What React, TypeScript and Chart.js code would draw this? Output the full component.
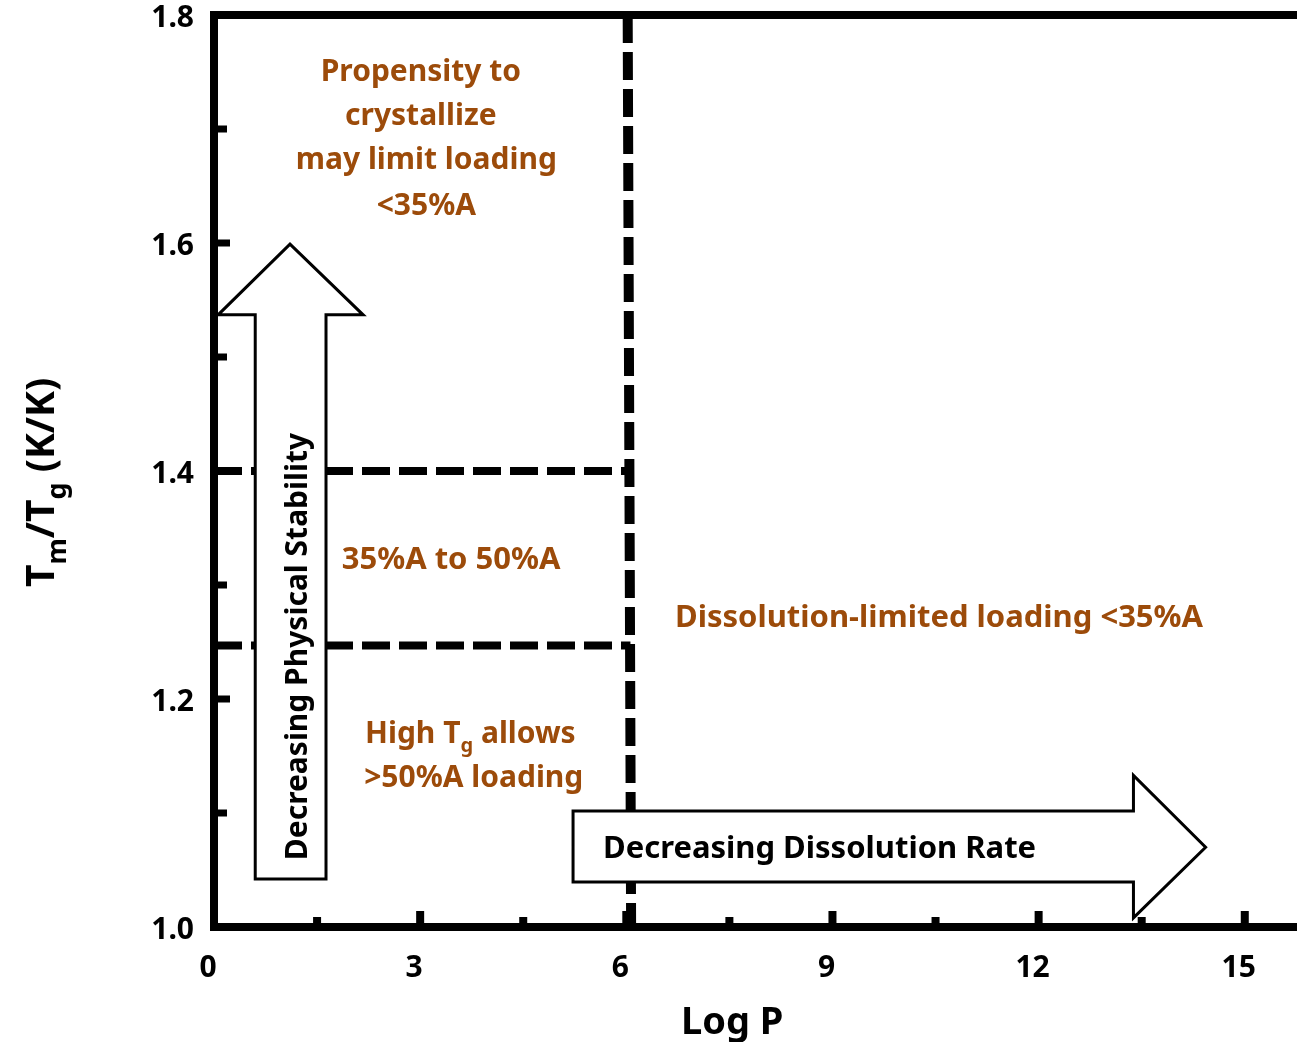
import React, { useEffect, useRef } from 'react';
import { Chart, registerables } from 'chart.js';

Chart.register(...registerables);

// ---- axis ranges & ticks ----
const xRange = [0, 15.76];
const yRange = [1.0, 1.8];
const xTickValues = [0, 1.5, 3, 4.5, 6, 7.5, 9, 10.5, 12, 13.5, 15];
const yTickValues = [1.0, 1.1, 1.2, 1.3, 1.4, 1.5, 1.6, 1.7, 1.8];
const xLabelStep = 3;
const yLabelStep = 0.2;

// ---- boundary lines (data coords) ----
const verticalBoundary = [{ x: 6.02, y: 1.8 }, { x: 6.07, y: 1.0 }];
const upperBoundary = [{ x: 0, y: 1.4 }, { x: 6.03, y: 1.4 }];
const lowerBoundary = [{ x: 0, y: 1.247 }, { x: 6.06, y: 1.247 }];

// ---- block arrows (data coords) ----
const stabilityArrow = [
  [0.6, 1.042], [1.63, 1.042], [1.63, 1.537], [2.17, 1.537],
  [1.106, 1.599], [0.06, 1.537], [0.6, 1.537],
];
const dissolutionArrow = [
  [5.225, 1.1018], [13.38, 1.1018], [13.38, 1.133], [14.43, 1.07],
  [13.38, 1.008], [13.38, 1.0395], [5.225, 1.0395],
];
const stabilityLabel = { text: 'Decreasing Physical Stability', x: 1.19, y: 1.246 };
const dissolutionLabel = { text: 'Decreasing Dissolution Rate', x: 5.66, y: 1.07 };

// ---- region annotations ----
type Part = { t: string; sub?: boolean };
const regionNotes: { parts: Part[]; x: number; y: number; size: number }[] = [
  { parts: [{ t: 'Propensity to' }], x: 3.01, y: 1.752, size: 30 },
  { parts: [{ t: 'crystallize' }], x: 3.01, y: 1.713, size: 30 },
  { parts: [{ t: 'may limit loading' }], x: 3.09, y: 1.674, size: 30 },
  { parts: [{ t: '<35%A' }], x: 3.09, y: 1.634, size: 30 },
  { parts: [{ t: '35%A to 50%A' }], x: 3.45, y: 1.324, size: 31 },
  { parts: [{ t: 'Dissolution-limited loading <35%A' }], x: 10.55, y: 1.273, size: 31 },
  { parts: [{ t: 'High T' }, { t: 'g', sub: true }, { t: ' allows' }], x: 3.73, y: 1.171, size: 30 },
  { parts: [{ t: '>50%A loading' }], x: 3.78, y: 1.132, size: 30 },
];

const xTitle: Part[] = [{ t: 'Log P' }];
const yTitle: Part[] = [{ t: 'T' }, { t: 'm', sub: true }, { t: '/T' }, { t: 'g', sub: true }, { t: ' (K/K)' }];

const FONT = '"Noto Sans"';
const NOTE_COLOR = '#9C4B0A';

function drawRich(ctx: CanvasRenderingContext2D, parts: Part[], cx: number, cy: number, size: number, color: string, align: 'center' | 'left' = 'center') {
  const subSize = Math.round(size * 0.68);
  const font = (s: number) => `bold ${s}px ${FONT}`;
  let total = 0;
  const widths = parts.map((p) => {
    ctx.font = font(p.sub ? subSize : size);
    const w = ctx.measureText(p.t).width;
    total += w;
    return w;
  });
  let x = align === 'center' ? cx - total / 2 : cx;
  ctx.fillStyle = color;
  ctx.textBaseline = 'alphabetic';
  ctx.textAlign = 'left';
  const base = cy + size * 0.36;
  parts.forEach((p, i) => {
    ctx.font = font(p.sub ? subSize : size);
    ctx.fillText(p.t, x, p.sub ? base + size * 0.3 : base);
    x += widths[i];
  });
}

const isMultiple = (v: number, step: number) => Math.abs(v / step - Math.round(v / step)) < 1e-4;

const overlayPlugin = {
  id: 'overlay',
  afterDatasetsDraw(chart: any) {
    const { ctx, chartArea } = chart;
    const xs = chart.scales.x;
    const ys = chart.scales.y;
    const px = (v: number) => xs.getPixelForValue(v);
    const py = (v: number) => ys.getPixelForValue(v);
    ctx.save();
    // top frame line
    ctx.fillStyle = '#000';
    const topY = py(yRange[1]);
    ctx.fillRect(chartArea.left - 4, topY - 4, chartArea.right - chartArea.left + 8, 8);

    // inner tick marks
    const axisL = chartArea.left + 4;
    yTickValues.forEach((v) => {
      if (v <= yRange[0] + 1e-6 || v >= yRange[1] - 1e-6) return;
      const len = isMultiple(v, yLabelStep) ? 12 : 9;
      ctx.fillRect(axisL, py(v) - 3.5, len, 7);
    });
    const axisB = chartArea.bottom - 4;
    xTickValues.forEach((v) => {
      if (v <= xRange[0] + 1e-6) return;
      const len = isMultiple(v, xLabelStep) ? 12 : 6;
      ctx.fillRect(px(v) - 4, axisB - len, 8, len);
    });

    // block arrows
    const drawPoly = (pts: number[][]) => {
      ctx.beginPath();
      pts.forEach(([a, b], i) => {
        if (i === 0) ctx.moveTo(px(a), py(b));
        else ctx.lineTo(px(a), py(b));
      });
      ctx.closePath();
      ctx.fillStyle = '#fff';
      ctx.fill();
      ctx.lineWidth = 3;
      ctx.lineJoin = 'miter';
      ctx.strokeStyle = '#000';
      ctx.stroke();
    };
    drawPoly(stabilityArrow);
    drawPoly(dissolutionArrow);

    // arrow labels
    ctx.save();
    ctx.translate(px(stabilityLabel.x), py(stabilityLabel.y));
    ctx.rotate(-Math.PI / 2);
    drawRich(ctx, [{ t: stabilityLabel.text }], 0, 0, 30, '#000');
    ctx.restore();
    drawRich(ctx, [{ t: dissolutionLabel.text }], px(dissolutionLabel.x), py(dissolutionLabel.y), 31, '#000', 'left');

    // region notes
    regionNotes.forEach((n) => drawRich(ctx, n.parts, px(n.x), py(n.y), n.size, NOTE_COLOR));

    // axis titles
    drawRich(ctx, xTitle, px(7.54), chartArea.bottom + 93, 38, '#000');
    ctx.save();
    ctx.translate(chartArea.left - 174, py(1.39));
    ctx.rotate(-Math.PI / 2);
    drawRich(ctx, yTitle, 0, 0, 39, '#000');
    ctx.restore();

    ctx.restore();
  },
};

export default function App() {
  const ref = useRef<HTMLCanvasElement | null>(null);
  useEffect(() => {
    document.body.style.margin = '0';
    const canvas = ref.current;
    if (!canvas) return;
    const lineDs = (data: any[], width: number) => ({
      type: 'line' as const,
      data,
      borderColor: '#000',
      borderWidth: width,
      borderDash: [28, 9],
      borderCapStyle: 'butt',
      pointRadius: 0,
      fill: false,
      tension: 0,
    });
    const chart = new Chart(canvas, {
      type: 'line',
      data: {
        datasets: [
          lineDs(verticalBoundary, 10),
          lineDs(upperBoundary, 8),
          lineDs(lowerBoundary, 8),
        ] as any,
      },
      options: {
        animation: false,
        responsive: false,
        devicePixelRatio: 1,
        layout: { padding: { top: 15, left: 0, right: 0, bottom: 0 } },
        plugins: { legend: { display: false }, tooltip: { enabled: false } },
        scales: {
          x: {
            type: 'linear',
            min: xRange[0],
            max: xRange[1],
            grid: { display: false, drawTicks: false },
            border: { display: true, width: 8, color: '#000' },
            afterBuildTicks: (s: any) => { s.ticks = xTickValues.map((v) => ({ value: v })); },
            ticks: {
              padding: 23,
              labelOffset: -6,
              color: '#000',
              maxRotation: 0,
              autoSkip: false,
              font: { family: 'Noto Sans', weight: 'bold', size: 30 },
              callback: (v: any) => {
                const n = Number(v);
                return isMultiple(n, xLabelStep) ? String(Math.round(n)) : '';
              },
            },
            afterFit: (s: any) => {
              s.height = 115;
              s.paddingLeft = 0; s.paddingRight = 0; s.paddingTop = 0; s.paddingBottom = 0;
            },
          },
          y: {
            type: 'linear',
            min: yRange[0],
            max: yRange[1],
            grid: { display: false, drawTicks: false },
            border: { display: true, width: 8, color: '#000' },
            afterBuildTicks: (s: any) => { s.ticks = yTickValues.map((v) => ({ value: v })); },
            ticks: {
              padding: 20,
              labelOffset: 3,
              color: '#000',
              autoSkip: false,
              font: { family: 'Noto Sans', weight: 'bold', size: 30 },
              callback: (v: any) => {
                const n = Number(v);
                return isMultiple(n, yLabelStep) ? n.toFixed(1) : '';
              },
            },
            afterFit: (s: any) => {
              s.width = 214;
              s.paddingLeft = 0; s.paddingRight = 0; s.paddingTop = 0; s.paddingBottom = 0;
            },
          },
        },
      },
      plugins: [overlayPlugin],
    });
    return () => chart.destroy();
  }, []);
  return (
    <div style={{ width: 1297, height: 1042 }}>
      <canvas ref={ref} width={1297} height={1042} />
    </div>
  );
}
